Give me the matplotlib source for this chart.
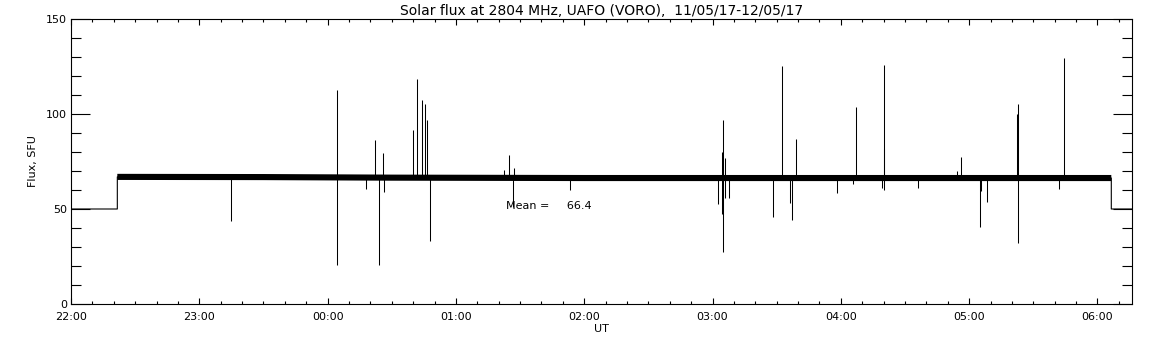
# solar flux record at 2804 MHz, UAFO (VORO)
# importing packages

import matplotlib
matplotlib.use('Agg')
import matplotlib.pyplot as plt
from matplotlib.ticker import MultipleLocator, FixedLocator

# time is given in hours after 22:00 UT
# quiet level before start and after end of record
gap_level = 50.0
rec_start = 0.361
rec_end = 8.108
t_max = 8.267

# level of the noisy band (hours, SFU)
band_t = [0.361, 1.5, 2.5, 4.0, 8.108]
band_v = [66.9, 66.8, 66.5, 66.3, 66.3]

# spikes: time, and the value the spike reaches
spike_t = [1.249, 2.077, 2.077, 2.302, 2.373, 2.403, 2.428, 2.436,
           2.668, 2.699, 2.738, 2.761, 2.777, 2.800,
           3.377, 3.416, 3.443, 3.450, 3.892,
           5.045, 5.076, 5.076, 5.084, 5.084, 5.100, 5.100, 5.129,
           5.474, 5.544, 5.606, 5.622, 5.653, 5.968,
           6.097, 6.121, 6.319, 6.334, 6.339, 6.339, 6.599,
           6.908, 6.939, 7.087, 7.093, 7.142,
           7.373, 7.381, 7.381, 7.703, 7.742]
spike_v = [43.8, 112.6, 20.7, 60.4, 86.3, 20.7, 79.4, 59.1,
           91.6, 118.4, 107.4, 105.3, 96.8, 33.3,
           70.5, 78.4, 51.2, 71.4, 60.0,
           52.6, 80.2, 47.2, 96.8, 27.5, 76.7, 55.6, 55.6,
           45.6, 125.3, 53.0, 44.2, 86.8, 58.6,
           63.0, 103.7, 61.0, 81.6, 125.8, 60.0, 61.2,
           70.0, 77.5, 40.7, 59.6, 53.9,
           100.0, 105.3, 32.3, 60.7, 129.5]

mean_flux = 66.4

tick_hours = [0, 1, 2, 3, 4, 5, 6, 7, 8]
tick_labels = ['22:00', '23:00', '00:00', '01:00', '02:00',
               '03:00', '04:00', '05:00', '06:00']

title = 'Solar flux at 2804 MHz, UAFO (VORO),  11/05/17-12/05/17'

# figure
fig = plt.figure(figsize=(11.52, 3.45), dpi=100)
ax = fig.add_axes([71 / 1152, 41 / 345, 1060.7 / 1152, 285 / 345])

# step from the gap level to the record and back
step_t = [0, rec_start, rec_start, rec_end, rec_end, t_max]
step_v = [gap_level, gap_level, band_v[0], band_v[-1], gap_level, gap_level]
ax.plot(step_t, step_v, color='black', lw=0.8)

# noisy band drawn as a thick line
ax.plot(band_t, band_v, color='black', lw=4.4, solid_capstyle='butt')

# spikes from the band level
base = [band_v[0] if t < 2.0 else band_v[-1] for t in spike_t]
ax.vlines(spike_t, base, spike_v, color='black', lw=0.75)

# mean label
ax.text(3.39, 50, 'Mean =     %.1f' % mean_flux, fontsize=8,
        ha='left', va='baseline')

# axes setup
ax.set_xlim(0, t_max)
ax.set_ylim(0, 150)
ax.xaxis.set_major_locator(FixedLocator(tick_hours))
ax.set_xticklabels(tick_labels)
ax.xaxis.set_minor_locator(MultipleLocator(1 / 6))
ax.yaxis.set_major_locator(MultipleLocator(50))
ax.yaxis.set_minor_locator(MultipleLocator(10))

ax.tick_params(axis='both', which='both', direction='in', top=True,
               right=True, width=0.8, labelsize=8, colors='black')
ax.tick_params(axis='x', which='major', length=4, pad=6)
ax.tick_params(axis='x', which='minor', length=2.5)
ax.tick_params(axis='y', which='major', length=14, pad=3)
ax.tick_params(axis='y', which='minor', length=7)
for s in ax.spines.values():
    s.set_linewidth(0.8)

ax.set_xlabel('UT', fontsize=8, labelpad=1)
ax.set_ylabel('Flux, SFU', fontsize=8, labelpad=5.5)
ax.set_title(title, fontsize=10, pad=3)

plt.savefig('out.png', dpi=100)
